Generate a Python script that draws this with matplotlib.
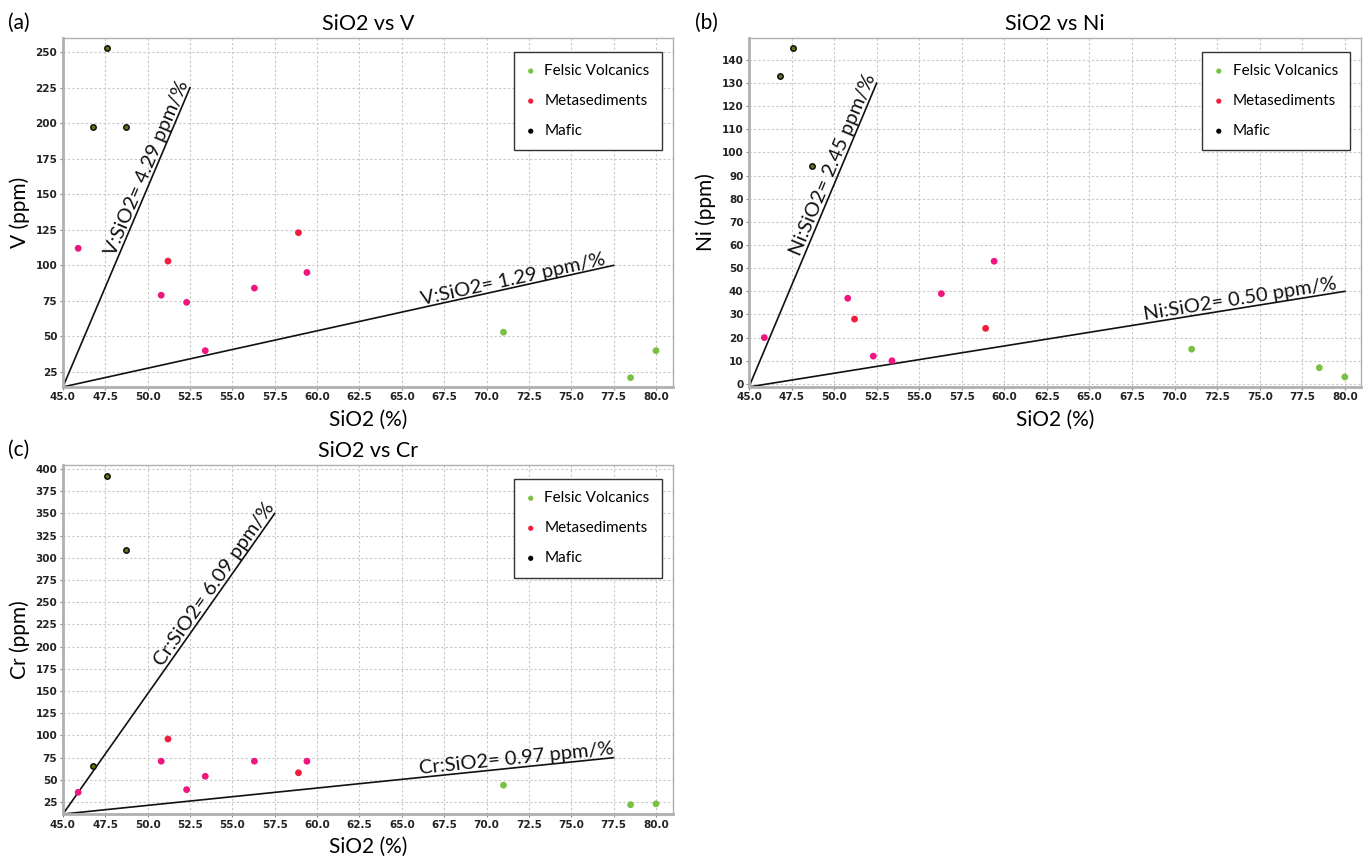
import numpy as np
import matplotlib.pyplot as plt

# SiO2 (%) for each sample group
felsic_sio2 = [71.0, 78.5, 80.0]
meta_sio2 = [45.9, 50.8, 51.2, 52.3, 53.4, 56.3, 58.9, 59.4]
mafic_sio2 = [47.6, 46.8, 48.7]

# trace elements (ppm)
felsic_v = [53, 21, 40]
meta_v = [112, 79, 103, 74, 40, 84, 123, 95]
mafic_v = [253, 197, 197]

felsic_ni = [15, 7, 3]
meta_ni = [20, 37, 28, 12, 10, 39, 24, 53]
mafic_ni = [145, 133, 94]

felsic_cr = [44, 22, 23]
meta_cr = [36, 71, 96, 39, 54, 71, 58, 71]
mafic_cr = [392, 66, 309]

# reference ratio lines: origin, steep end, shallow end
v_lines = [(45.0, 14.5), (52.5, 225), (77.5, 100)]
ni_lines = [(45.0, -1.3), (52.5, 130), (80.0, 40)]
cr_lines = [(45.0, 11.5), (57.5, 350), (77.5, 75)]
v_labels = ["V:SiO2= 4.29 ppm/%", "V:SiO2= 1.29 ppm/%"]
ni_labels = ["Ni:SiO2= 2.45 ppm/%", "Ni:SiO2= 0.50 ppm/%"]
cr_labels = ["Cr:SiO2= 6.09 ppm/%", "Cr:SiO2= 0.97 ppm/%"]

# which metasediment points are drawn red (others pink)
meta_is_red = [False, False, True, False, False, False, True, False]

green = '#7ac143'
pink = '#f0157f'
red = '#f01e3c'
font = 'Lato'

fig = plt.figure(figsize=(13.68, 8.56), dpi=100)


def panel(rect, tag, tagx, elem, fel, met, maf, lines, labels, xlim, ylim, yticks, steep_pos, shallow_pos):
    ax = fig.add_axes(rect)
    ax.set_xlim(*xlim)
    ax.set_ylim(*ylim)
    ax.set_xticks(np.arange(45.0, 80.1, 2.5))
    ax.set_yticks(yticks)
    ax.xaxis.set_major_formatter(plt.FormatStrFormatter('%.1f'))
    ax.tick_params(labelsize=7.5, length=2, color='#888888', pad=2)
    for lab in ax.get_xticklabels() + ax.get_yticklabels():
        lab.set_fontweight('bold')
        lab.set_color('#222222')
    ax.grid(True, ls=(0, (2, 2)), color='#c8c8c8', lw=0.8)
    ax.set_axisbelow(True)
    for s in ax.spines.values():
        s.set_color('#b0b0b0')
        s.set_linewidth(1.0)
    ax.spines['left'].set_linewidth(2.0)
    ax.spines['bottom'].set_linewidth(2.0)

    o, st, sh = lines
    ax.plot([o[0], st[0]], [o[1], st[1]], color='#111111', lw=1.2, zorder=2)
    ax.plot([o[0], sh[0]], [o[1], sh[1]], color='#111111', lw=1.2, zorder=2)

    # labels along the lines
    for end, text, frac in [(st, labels[0], steep_pos), (sh, labels[1], shallow_pos)]:
        x = o[0] + (end[0] - o[0]) * frac
        y = o[1] + (end[1] - o[1]) * frac
        p0 = ax.transData.transform(o)
        p1 = ax.transData.transform(end)
        ang = np.degrees(np.arctan2(p1[1] - p0[1], p1[0] - p0[0]))
        ax.text(x, y, text, rotation=ang, rotation_mode='anchor', ha='center', va='bottom',
                fontsize=14.5, family=font, color='#111111')

    mcols = [red if r else pink for r in meta_is_red]
    ax.scatter(fel[0], fel[1], s=24, c=green, edgecolors='none', zorder=3)
    ax.scatter(met[0], met[1], s=24, c=mcols, edgecolors='none', zorder=3)
    ax.scatter(maf[0], maf[1], s=15, c='#5a7a10', edgecolors='#111111', linewidths=1.1, zorder=3)

    h1 = ax.scatter([], [], s=14, c=green, edgecolors='none')
    h2 = ax.scatter([], [], s=14, c=red, edgecolors='none')
    h3 = ax.scatter([], [], s=14, c='black', edgecolors='none')
    leg = ax.legend([h1, h2, h3], ['Felsic Volcanics', 'Metasediments', 'Mafic'],
                    loc='upper right', bbox_to_anchor=(0.982, 0.96), fancybox=False,
                    framealpha=1, edgecolor='#333333', prop={'family': font, 'size': 11},
                    labelspacing=1.05, handletextpad=0.6, handlelength=0.6, borderpad=0.8,
                    borderaxespad=0)
    leg.get_frame().set_linewidth(1.0)

    ax.set_title('SiO2 vs ' + elem, family=font, fontsize=15.5, pad=6)
    ax.set_xlabel('SiO2 (%)', family=font, fontsize=15, labelpad=5)
    ax.set_ylabel(elem + ' (ppm)', family=font, fontsize=15, labelpad=4)
    fig.text(tagx, rect[1] + rect[3] + 0.018, tag, family=font, fontsize=15, va='center')
    return ax


panel([0.046, 0.548, 0.4459, 0.4077], '(a)', 0.006, 'V',
      (felsic_sio2, felsic_v), (meta_sio2, meta_v), (mafic_sio2, mafic_v),
      v_lines, v_labels, (45.0, 81.0), (14.5, 260), np.arange(25, 251, 25), 0.72, 0.82)
panel([0.5475, 0.548, 0.4474, 0.4077], '(b)', 0.508, 'Ni',
      (felsic_sio2, felsic_ni), (meta_sio2, meta_ni), (mafic_sio2, mafic_ni),
      ni_lines, ni_labels, (45.0, 80.95), (-1.3, 149.5), np.arange(0, 141, 10), 0.72, 0.826)
panel([0.046, 0.049, 0.4459, 0.4077], '(c)', 0.006, 'Cr',
      (felsic_sio2, felsic_cr), (meta_sio2, meta_cr), (mafic_sio2, mafic_cr),
      cr_lines, cr_labels, (45.0, 81.0), (11.5, 404.5), np.arange(25, 401, 25), 0.75, 0.825)

fig.savefig('out.png', dpi=100)
